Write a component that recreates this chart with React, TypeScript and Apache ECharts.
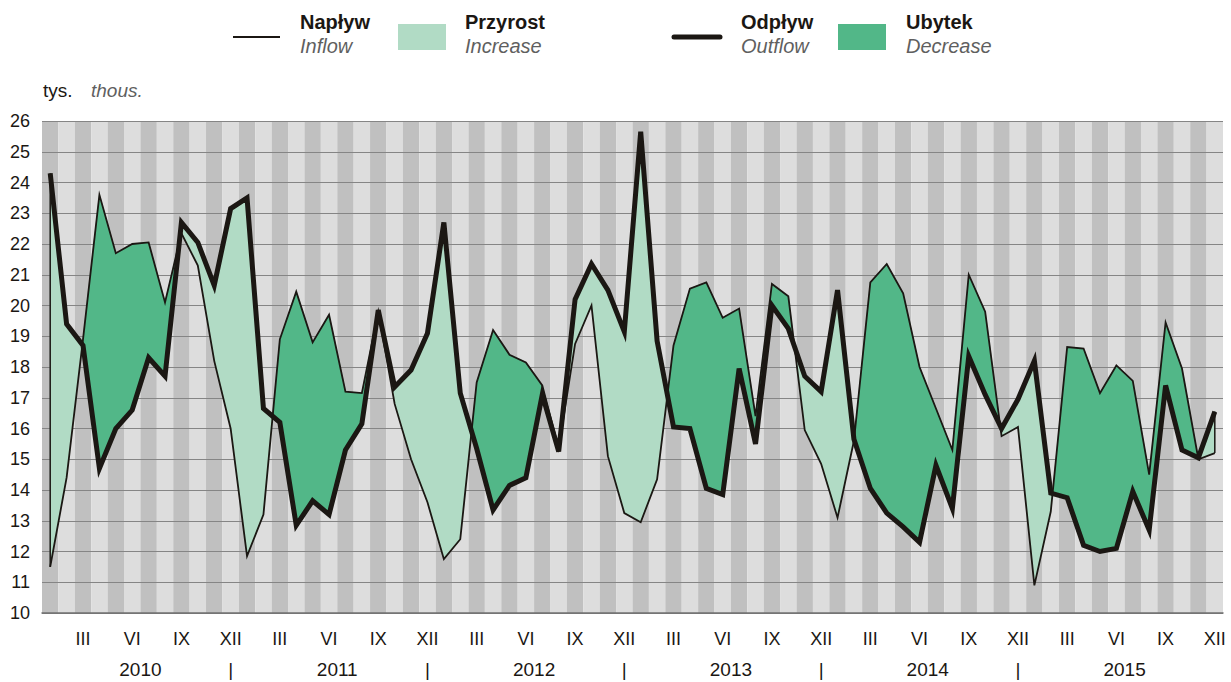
import React, { useEffect, useRef } from "react";
import * as echarts from "echarts";

// ---- data ----
const years = [2010, 2011, 2012, 2013, 2014, 2015];
const monthRoman = ["I", "II", "III", "IV", "V", "VI", "VII", "VIII", "IX", "X", "XI", "XII"];
const shownMonths = ["III", "VI", "IX", "XII"];

// Napływ / Inflow (thin line), thousands
const inflow2010 = [11.5, 14.4, 18.9, 23.6, 21.7, 22.0, 22.05, 20.1, 22.35, 21.3, 18.2, 16.0];
const inflow2011 = [11.85, 13.2, 18.9, 20.45, 18.8, 19.7, 17.2, 17.15, 19.8, 16.8, 15.0, 13.6];
const inflow2012 = [11.75, 12.4, 17.5, 19.2, 18.4, 18.15, 17.4, 15.35, 18.75, 20.0, 15.1, 13.25];
const inflow2013 = [12.95, 14.35, 18.7, 20.55, 20.75, 19.6, 19.9, 16.4, 20.7, 20.3, 15.95, 14.85];
const inflow2014 = [13.1, 15.6, 20.75, 21.35, 20.4, 18.0, 16.65, 15.3, 21.0, 19.8, 15.75, 16.05];
const inflow2015 = [10.9, 13.3, 18.65, 18.6, 17.15, 18.05, 17.55, 14.5, 19.45, 17.95, 15.0, 15.2];

// Odpływ / Outflow (thick line), thousands
const outflow2010 = [24.3, 19.4, 18.7, 14.7, 16.0, 16.6, 18.3, 17.7, 22.7, 22.05, 20.65, 23.15];
const outflow2011 = [23.5, 16.65, 16.2, 12.85, 13.65, 13.2, 15.3, 16.15, 19.85, 17.35, 17.9, 19.1];
const outflow2012 = [22.7, 17.15, 15.35, 13.35, 14.15, 14.4, 17.1, 15.25, 20.2, 21.35, 20.5, 19.15];
const outflow2013 = [25.65, 18.85, 16.05, 16.0, 14.05, 13.85, 17.95, 15.5, 20.0, 19.25, 17.7, 17.2];
const outflow2014 = [20.5, 15.65, 14.05, 13.25, 12.8, 12.3, 14.8, 13.4, 18.35, 17.1, 16.0, 16.95];
const outflow2015 = [18.2, 13.9, 13.75, 12.2, 12.0, 12.1, 13.95, 12.7, 17.4, 15.3, 15.05, 16.55];

const inflow = [...inflow2010, ...inflow2011, ...inflow2012, ...inflow2013, ...inflow2014, ...inflow2015];
const outflow = [...outflow2010, ...outflow2011, ...outflow2012, ...outflow2013, ...outflow2014, ...outflow2015];

const yMin = 10;
const yMax = 26;
const yStep = 1;

// ---- styles ----
const INK = "#1b1713";
const LIGHT = "#b1dbc5";
const DARK = "#52b788";
const STRIPE_DARK = "#c0c0c0";
const STRIPE_LIGHT = "#dddddd";
const GREY_TEXT = "#5f5f5f";
const FONT = "'Liberation Sans', Arial, sans-serif";

const categories: string[] = [];
years.forEach((y) => monthRoman.forEach((m) => categories.push(`${y}-${m}`)));

// year label / separator positions on a value axis aligned to category indices
const yearAxisValues: number[] = [];
const yearAxisText: Record<string, string> = {};
years.forEach((y, k) => {
  const c = k * 12 + 5.5;
  yearAxisValues.push(c);
  yearAxisText[String(c)] = String(y);
  if (k < years.length - 1) {
    const s = k * 12 + 11;
    yearAxisValues.push(s);
    yearAxisText[String(s)] = "|";
  }
});

function renderStripe(params: any, api: any) {
  const i = api.value(0);
  const top = api.coord([i, yMax]);
  const bottom = api.coord([i, yMin]);
  const w = api.size([1, 0])[0];
  return {
    type: "rect",
    shape: { x: top[0] - w / 2, y: top[1], width: w, height: bottom[1] - top[1] },
    style: { fill: i % 2 === 0 ? STRIPE_DARK : STRIPE_LIGHT },
    silent: true,
  };
}

function renderFill(params: any, api: any) {
  const n = inflow.length;
  const pin = inflow.map((v, i) => api.coord([i, v]));
  const pout = outflow.map((v, i) => api.coord([i, v]));
  const children: any[] = [];
  let upper: number[][] = [pin[0]];
  let lower: number[][] = [pout[0]];
  let sign = Math.sign(outflow[0] - inflow[0]) || 1;
  const flush = (s: number) => {
    const pts = upper.concat(lower.slice().reverse());
    const c = s > 0 ? LIGHT : DARK;
    children.push({
      type: "polygon",
      shape: { points: pts },
      style: { fill: c, stroke: c, lineWidth: 0.6 },
      silent: true,
    });
  };
  for (let i = 0; i < n - 1; i++) {
    const d0 = outflow[i] - inflow[i];
    const d1 = outflow[i + 1] - inflow[i + 1];
    const s1 = Math.sign(d1) || sign;
    if (s1 !== sign) {
      const t = d0 / (d0 - d1);
      const cx = pin[i][0] + t * (pin[i + 1][0] - pin[i][0]);
      const cy = pin[i][1] + t * (pin[i + 1][1] - pin[i][1]);
      upper.push([cx, cy]);
      lower.push([cx, cy]);
      flush(sign);
      upper = [[cx, cy]];
      lower = [[cx, cy]];
      sign = s1;
    }
    upper.push(pin[i + 1]);
    lower.push(pout[i + 1]);
  }
  flush(sign);
  [0, n - 1].forEach((i) => {
    children.push({
      type: "line",
      shape: { x1: pin[i][0], y1: pin[i][1], x2: pout[i][0], y2: pout[i][1] },
      style: { stroke: INK, lineWidth: 1.5 },
      silent: true,
    });
  });
  return { type: "group", children };
}

function legendText(x: number, bold: string, italic: string) {
  return [
    {
      type: "text",
      x,
      y: 22,
      style: { text: bold, fill: INK, font: `bold 20px ${FONT}`, verticalAlign: "middle" },
    },
    {
      type: "text",
      x,
      y: 46,
      style: { text: italic, fill: GREY_TEXT, font: `italic 20px ${FONT}`, verticalAlign: "middle" },
    },
  ];
}

export default function App() {
  const ref = useRef<HTMLDivElement>(null);

  useEffect(() => {
    document.body.style.margin = "0";
    if (!ref.current) return;
    const chart = echarts.init(ref.current, null, { renderer: "svg" });
    const option: any = {
      animation: false,
      textStyle: { fontFamily: FONT },
      grid: { left: 42, right: 8, top: 121, bottom: 69, containLabel: false },
      xAxis: [
        {
          type: "category",
          data: categories,
          boundaryGap: true,
          position: "bottom",
          axisLine: { show: true, lineStyle: { color: "#707070", width: 1.5 } },
          axisTick: { show: false },
          axisLabel: {
            interval: 0,
            margin: 17,
            fontSize: 18,
            color: INK,
            fontFamily: FONT,
            formatter: (v: string) => {
              const m = v.split("-")[1];
              return shownMonths.includes(m) ? m : "";
            },
          },
          splitLine: { show: false },
          splitArea: { show: false },
        },
        {
          type: "value",
          min: -0.5,
          max: 71.5,
          position: "bottom",
          offset: 0,
          axisLine: { show: false },
          axisTick: { show: false },
          splitLine: { show: false },
          axisLabel: {
            customValues: yearAxisValues,
            margin: 47,
            fontSize: 19,
            color: INK,
            fontFamily: FONT,
            formatter: (v: number) => yearAxisText[String(v)] ?? "",
          },
        },
      ],
      yAxis: {
        type: "value",
        min: yMin,
        max: yMax,
        interval: yStep,
        axisLine: { show: false },
        axisTick: { show: false },
        axisLabel: { fontSize: 18, color: INK, margin: 12, fontFamily: FONT },
        splitLine: { show: true, lineStyle: { color: "#858585", width: 1.2 } },
      },
      series: [
        {
          type: "custom",
          name: "stripes",
          renderItem: renderStripe,
          data: categories.map((_, i) => [i, yMax]),
          silent: true,
          clip: false,
          z: -1,
        },
        {
          type: "custom",
          name: "fill",
          renderItem: renderFill,
          data: [[0, inflow[0]]],
          silent: true,
          clip: false,
          z: 1,
        },
        {
          type: "line",
          name: "Napływ",
          data: inflow,
          showSymbol: false,
          symbol: "none",
          lineStyle: { color: INK, width: 1.8, join: "miter", miterLimit: 6 },
          silent: true,
          z: 3,
        },
        {
          type: "line",
          name: "Odpływ",
          data: outflow,
          showSymbol: false,
          symbol: "none",
          lineStyle: { color: INK, width: 5, join: "miter", miterLimit: 5 },
          silent: true,
          z: 4,
        },
      ],
      graphic: [
        { type: "line", shape: { x1: 233, y1: 37, x2: 280, y2: 37 }, style: { stroke: INK, lineWidth: 2 } },
        ...legendText(300, "Napływ", "Inflow"),
        { type: "rect", shape: { x: 398, y: 24, width: 48, height: 26 }, style: { fill: LIGHT } },
        ...legendText(465, "Przyrost", "Increase"),
        {
          type: "line",
          shape: { x1: 674, y1: 37, x2: 720, y2: 37 },
          style: { stroke: INK, lineWidth: 5, lineCap: "round" },
        },
        ...legendText(741, "Odpływ", "Outflow"),
        { type: "rect", shape: { x: 838, y: 24, width: 48, height: 26 }, style: { fill: DARK } },
        ...legendText(906, "Ubytek", "Decrease"),
        {
          type: "text",
          x: 43,
          y: 90,
          style: { text: "tys.", fill: INK, font: `19px ${FONT}`, verticalAlign: "middle" },
        },
        {
          type: "text",
          x: 91,
          y: 90,
          style: { text: "thous.", fill: GREY_TEXT, font: `italic 19px ${FONT}`, verticalAlign: "middle" },
        },
      ],
    };
    chart.setOption(option);
    return () => chart.dispose();
  }, []);

  return (
    <div
      ref={ref}
      style={{ position: "absolute", left: 0, top: 0, width: 1231, height: 682 }}
    />
  );
}
